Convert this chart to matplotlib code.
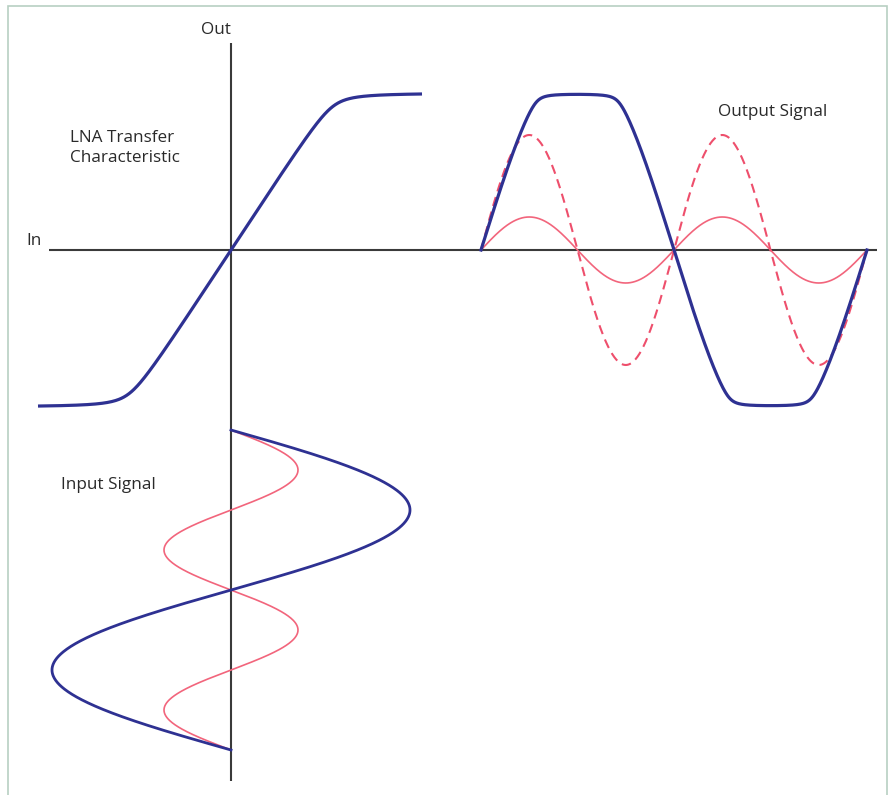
import matplotlib
matplotlib.use("Agg")
import matplotlib.pyplot as plt
import numpy as np
from matplotlib.patches import Rectangle

# --- values (pixel-sized units, origin at axis crossing) ---
gain = 1.54          # slope of the linear part of the transfer curve
sat_level = 157      # saturation level of the output
knee = 28            # roundness of the knee
transfer_in_range = [-193, 191]

input_start = 180    # input signal starts this far below the "In" axis
input_period = 320
input_amp_large = 179
input_amp_small = 67

output_start = 250
output_period = 386
output_drive = 128        # drive that gives the clipped (blue) output
output_knee = 16
output_small_amp = 33     # small signal (solid red)
output_small_gain_amp = 115  # amplified small signal (dashed red)

blue = "#2e3192"
red_solid = "#f2657c"
red_dash = "#ee4f6c"
axis_col = "#3a3a3a"
text_col = "#2a2a2a"


def transfer(u, r=knee):
    a = gain * u
    return (np.sqrt((a + sat_level) ** 2 + r ** 2) - np.sqrt((a - sat_level) ** 2 + r ** 2)) / 2


fig = plt.figure(figsize=(8.91, 7.95), dpi=100)
ax = fig.add_axes([0, 0, 1, 1])
ax.set_xlim(-231, 660)
ax.set_ylim(-545, 250)
ax.axis("off")

# frame
fig.patches.append(Rectangle((8 / 891, -0.01), 879 / 891, 1 - 6 / 795 + 0.01,
                             transform=fig.transFigure, fill=False,
                             edgecolor="#b8cfc2", linewidth=1.2))

# axes
ax.plot([0, 0], [207, -531], color=axis_col, lw=1.5, solid_capstyle="butt", zorder=1)
ax.plot([-182, 646], [0, 0], color=axis_col, lw=1.5, solid_capstyle="butt", zorder=1)

# transfer characteristic
u = np.linspace(transfer_in_range[0], transfer_in_range[1], 600)
ax.plot(u, transfer(u), color=blue, lw=2.3, solid_capstyle="butt", zorder=3)

# input signal (time runs downward)
t_in = np.linspace(0, input_period, 600)
y_in = -input_start - t_in
ax.plot(input_amp_small * np.sin(2 * np.pi * t_in / (input_period / 2)), y_in,
        color=red_solid, lw=1.2, zorder=2)
ax.plot(input_amp_large * np.sin(2 * np.pi * t_in / input_period), y_in,
        color=blue, lw=2.0, zorder=3)

# output signal (time runs to the right)
t_out = np.linspace(0, output_period, 800)
x_out = output_start + t_out
ax.plot(x_out, output_small_amp * np.sin(2 * np.pi * t_out / (output_period / 2)),
        color=red_solid, lw=1.2, zorder=2)
ax.plot(x_out, output_small_gain_amp * np.sin(2 * np.pi * t_out / (output_period / 2)),
        color=red_dash, lw=1.5, dashes=(4.5, 2.8), zorder=2)
ax.plot(x_out, transfer(output_drive * np.sin(2 * np.pi * t_out / output_period), r=output_knee),
        color=blue, lw=2.3, zorder=3)

# labels
font = dict(family="Open Sans", fontsize=12.3, color=text_col)
ax.text(-15, 220, "Out", ha="center", va="center", **font)
ax.text(-197, 9, "In", ha="center", va="center", **font)
ax.text(-161, 102, "LNA Transfer\nCharacteristic", ha="left", va="center",
        linespacing=1.25, **font)
ax.text(487, 138, "Output Signal", ha="left", va="center", **font)
ax.text(-170, -235, "Input Signal", ha="left", va="center", **font)

fig.savefig("out.png", dpi=100, facecolor="white")
